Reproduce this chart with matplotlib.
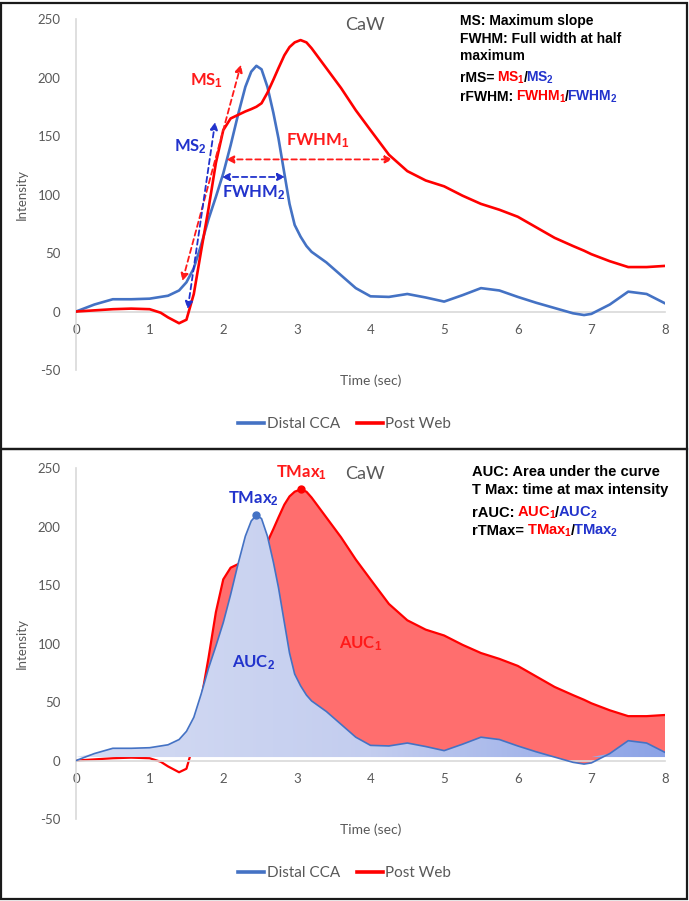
import numpy as np
import matplotlib
matplotlib.use("Agg")
import matplotlib.pyplot as plt
from matplotlib.colors import LinearSegmentedColormap
from matplotlib.lines import Line2D
from matplotlib.patches import Rectangle
from matplotlib.offsetbox import TextArea, HPacker, AnnotationBbox

plt.rcParams['mathtext.fontset'] = 'custom'
plt.rcParams['mathtext.rm'] = 'Liberation Sans:bold'
plt.rcParams['mathtext.it'] = 'Liberation Sans:bold'
plt.rcParams['mathtext.bf'] = 'Liberation Sans:bold'
plt.rcParams['axes.unicode_minus'] = False

# time (sec) and intensity
time_s = [0, 0.25, 0.5, 0.75, 1.0, 1.15, 1.25, 1.4, 1.5, 1.6, 1.7, 1.8, 1.9,
          2.0, 2.1, 2.2, 2.3, 2.38, 2.45, 2.52, 2.6, 2.68, 2.75, 2.83, 2.9,
          2.97, 3.05, 3.13, 3.2, 3.4, 3.6, 3.8, 4.0, 4.25, 4.5, 4.75, 5.0,
          5.25, 5.5, 5.75, 6.0, 6.25, 6.5, 6.75, 6.9, 7.0, 7.25, 7.5, 7.75, 8.0]
distal_cca = [0, 6, 10.5, 10.5, 11, 12.5, 13.5, 18, 25, 37, 57, 79, 98,
              118, 142, 168, 192, 205, 210, 207, 192, 170, 148, 118, 92,
              74, 64, 56, 51, 42, 31, 20, 13, 12.5, 15, 12, 8.5,
              14, 20, 18, 12.5, 7.5, 3, -1.5, -3, -2, 6, 17, 15, 7]
post_web = [0, 1, 2, 2.5, 2, -1, -5, -10, -7, 15, 52, 88, 127,
            155, 165, 168, 171, 173, 175, 178, 187, 198, 208, 219, 226,
            230, 232, 230, 225, 208, 191, 172, 155, 134, 120, 112, 107,
            99, 92, 87, 81, 72, 63, 56, 52, 49, 43, 38, 38, 39]

x_ticks = [0, 1, 2, 3, 4, 5, 6, 7, 8]
y_ticks = [-50, 0, 50, 100, 150, 200, 250]
series_names = ['Distal CCA', 'Post Web']

BLUE = '#4472c4'
RED = '#ff0000'
TXT_RED = '#ff1a1a'
TXT_BLUE = '#2233cc'
GRAY = '#595959'
AXIS = '#d9d9d9'
LABEL_FONT = 'Lato'
BOX_FONT = 'Liberation Sans'

t = np.array(time_s)
blue = np.array(distal_cca)
red = np.array(post_web)
W, H = 689, 901


def style_axes(ax, xlab_y):
    ax.set_xlim(0, 8)
    ax.set_ylim(-50, 250)
    ax.set_xticks(x_ticks)
    ax.set_yticks(y_ticks)
    for s in ['top', 'right']:
        ax.spines[s].set_visible(False)
    ax.spines['bottom'].set_position(('data', 0))
    ax.spines['bottom'].set_color(AXIS)
    ax.spines['left'].set_color(AXIS)
    ax.spines['bottom'].set_linewidth(1.2)
    ax.spines['left'].set_linewidth(1.2)
    ax.tick_params(axis='x', length=0, pad=9, labelcolor=GRAY, labelsize=9.5)
    ax.tick_params(axis='y', length=0, pad=11, labelcolor=GRAY, labelsize=9.5)
    for lab in ax.get_xticklabels() + ax.get_yticklabels():
        lab.set_fontfamily(LABEL_FONT)
    ax.set_ylabel('Intensity', color=GRAY, fontsize=9.5, family=LABEL_FONT)
    ax.yaxis.set_label_coords(-0.082, 0.5)
    ax.set_xlabel('Time (sec)', color=GRAY, fontsize=10, family=LABEL_FONT)
    ax.xaxis.label.set_va('center')
    ax.xaxis.set_label_coords(0.5, xlab_y)
    ax.text(3.93, 245, 'CaW', color=GRAY, fontsize=13, family=LABEL_FONT,
            ha='center', va='center')


def add_legend(ax, fig, y):
    handles = [Line2D([], [], color=BLUE, lw=2.6), Line2D([], [], color=RED, lw=2.6)]
    leg = ax.legend(handles, series_names, loc='center', bbox_to_anchor=(0.5, y),
                    bbox_transform=fig.transFigure, ncol=2, frameon=False,
                    handlelength=1.7, handletextpad=0.15, columnspacing=1.1,
                    prop={'family': LABEL_FONT, 'size': 11})
    for txt in leg.get_texts():
        txt.set_color(GRAY)


def rich_line(ax, x, y, parts, size=10):
    areas = [TextArea(s, textprops=dict(color=c, size=size, family=BOX_FONT,
                                        weight='bold')) for s, c in parts]
    box = HPacker(children=areas, align='baseline', pad=0, sep=-1)
    ab = AnnotationBbox(box, (x / W, 1 - y / H), xycoords='figure fraction',
                        box_alignment=(0, 0.5), frameon=False, pad=0,
                        annotation_clip=False)
    ax.add_artist(ab)


def dashed_arrow(ax, p0, p1, color):
    ax.annotate('', xy=p1, xytext=p0,
                arrowprops=dict(arrowstyle='<|-|>', linestyle=(0, (3, 2)),
                                color=color, lw=1.3, mutation_scale=11,
                                shrinkA=0, shrinkB=0))


def lbl(ax, x, y, s, color, size=12):
    ax.text(x, y, s, color=color, fontsize=size, family=LABEL_FONT,
            fontweight='bold', ha='center', va='center')


fig = plt.figure(figsize=(W / 100, H / 100), dpi=100)

# ---------- top panel: maximum slope / FWHM ----------
ax1 = fig.add_axes([0.1103, 0.5893, 0.8549, 0.3896])
ax1.plot(t, blue, color=BLUE, lw=1.9, zorder=3)
ax1.plot(t, red, color=RED, lw=1.9, zorder=3)
style_axes(ax1, -0.03)

dashed_arrow(ax1, (1.445, 26), (2.24, 211), TXT_RED)
dashed_arrow(ax1, (1.517, 2), (1.89, 162), TXT_BLUE)
dashed_arrow(ax1, (2.04, 130), (4.30, 130), TXT_RED)
dashed_arrow(ax1, (1.98, 115), (2.84, 115), TXT_BLUE)
lbl(ax1, 1.77, 197, 'MS$_1$', TXT_RED)
lbl(ax1, 1.55, 141, 'MS$_2$', TXT_BLUE)
lbl(ax1, 3.29, 146, 'FWHM$_1$', TXT_RED)
lbl(ax1, 2.42, 102, 'FWHM$_2$', TXT_BLUE)

rich_line(ax1, 460, 21, [('MS: Maximum slope', 'black')])
rich_line(ax1, 460, 39, [('FWHM: Full width at half', 'black')])
rich_line(ax1, 460, 56, [('maximum', 'black')])
rich_line(ax1, 460, 78, [('rMS= ', 'black'), ('MS$_1$', RED), ('/', 'black'),
                         ('MS$_2$', TXT_BLUE)])
rich_line(ax1, 460, 97, [('rFWHM: ', 'black'), ('FWHM$_1$', RED), ('/', 'black'),
                         ('FWHM$_2$', TXT_BLUE)])
add_legend(ax1, fig, 1 - 424 / H)

# ---------- bottom panel: AUC / TMax ----------
ax2 = fig.add_axes([0.1103, 0.0910, 0.8549, 0.3892])
ax2.fill_between(t, blue, red, where=red >= blue, interpolate=True,
                 color='#ff6e6e', lw=0, zorder=1)
ax2.plot(t, red, color=RED, lw=1.6, zorder=2)

base = 3
poly = ax2.fill_between(t, base, np.maximum(blue, base), facecolor='none',
                        edgecolor='none', zorder=3)
cmap = LinearSegmentedColormap.from_list('aucblue', ['#d5dcf3', '#c3cdef', '#8ba2e6'])
grad = np.linspace(0, 1, 256).reshape(1, -1)
im = ax2.imshow(grad, extent=[0, 8, 0, 250], aspect='auto', cmap=cmap,
                origin='lower', zorder=3)
im.set_clip_path(poly.get_paths()[0], transform=ax2.transData)
ax2.plot(t, blue, color=BLUE, lw=1.2, zorder=4)

i_b = int(np.argmax(blue))
i_r = int(np.argmax(red))
ax2.plot(t[i_b], blue[i_b], 'o', color=BLUE, ms=5, zorder=5)
ax2.plot(t[i_r], red[i_r], 'o', color=RED, ms=5, zorder=5)
style_axes(ax2, -0.031)

lbl(ax2, 2.41, 224, 'TMax$_2$', TXT_BLUE)
lbl(ax2, 3.07, 246, 'TMax$_1$', TXT_RED)
lbl(ax2, 3.87, 100, 'AUC$_1$', TXT_RED)
lbl(ax2, 2.41, 84, 'AUC$_2$', TXT_BLUE)

rich_line(ax2, 472, 472, [('AUC: Area under the curve', 'black')], size=10.6)
rich_line(ax2, 472, 490, [('T Max: time at max intensity', 'black')], size=10.6)
rich_line(ax2, 472, 513, [('rAUC: ', 'black'), ('AUC$_1$', RED), ('/', 'black'),
                          ('AUC$_2$', TXT_BLUE)], size=10.6)
rich_line(ax2, 472, 531, [('rTMax= ', 'black'), ('TMax$_1$', RED), ('/', 'black'),
                          ('TMax$_2$', TXT_BLUE)], size=10.6)
add_legend(ax2, fig, 1 - 873 / H)

# panel frames
split = 1 - 449 / H
fig.add_artist(Rectangle((0.002, split), 0.995, 0.997 - split, transform=fig.transFigure,
                         fill=False, ec='#1a1a1a', lw=1.6))
fig.add_artist(Rectangle((0.002, 0.002), 0.995, split - 0.002, transform=fig.transFigure,
                         fill=False, ec='#1a1a1a', lw=1.6))

fig.savefig('out.png', dpi=100)
